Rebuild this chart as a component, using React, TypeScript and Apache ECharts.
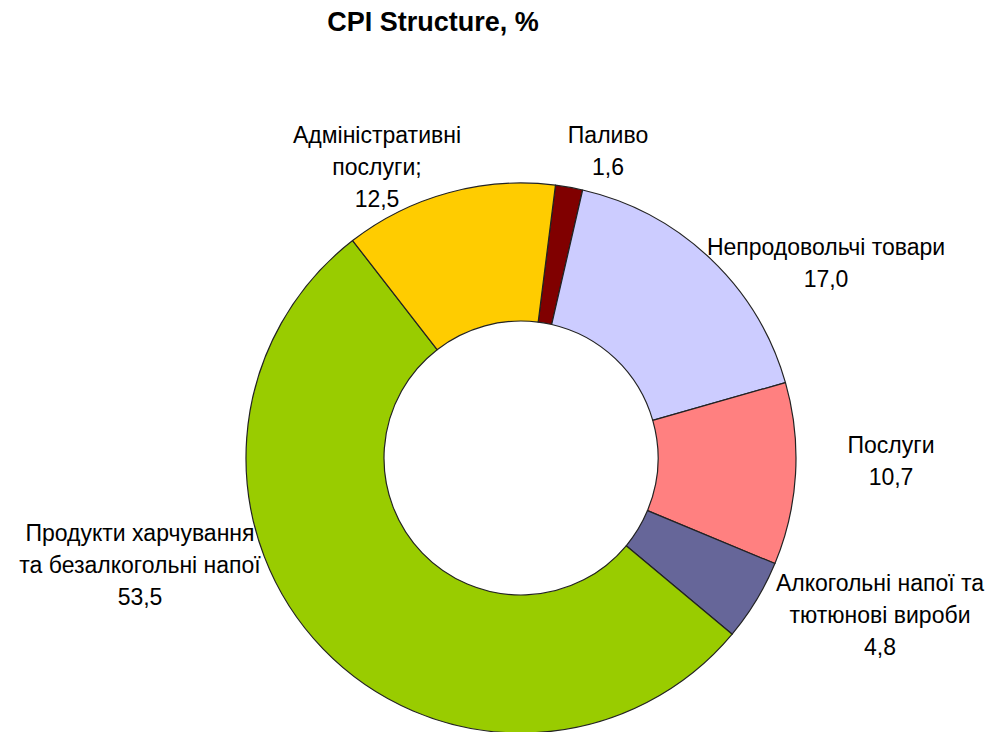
import React, { useEffect, useRef } from "react";
import * as echarts from "echarts";

const categories = [
  "Паливо",
  "Непродовольчі товари",
  "Послуги",
  "Алкогольні напої та\nтютюнові вироби",
  "Продукти харчування\nта безалкогольні напої",
  "Адміністративні\nпослуги;",
];
const values = [1.6, 17.0, 10.7, 4.8, 53.5, 12.5];
const colors = ["#800000", "#CCCCFF", "#FF8080", "#666699", "#99CC00", "#FFCC00"];
// label centre positions (px)
const labelPos: [number, number][] = [
  [608, 151],
  [826, 263],
  [891, 461],
  [880, 615],
  [140, 565],
  [377, 167],
];

export default function App() {
  const ref = useRef<HTMLDivElement>(null);
  useEffect(() => {
    if (!ref.current) return;
    const chart = echarts.init(ref.current, null, { renderer: "svg" });
    chart.setOption({
      animation: false,
      backgroundColor: "#ffffff",
      graphic: [
        {
          type: "text",
          x: 433,
          y: 22,
          style: {
            text: "CPI Structure, %",
            fontFamily: "Liberation Sans, Arial, sans-serif",
            fontWeight: "bold",
            fontSize: 27,
            fill: "#000",
            align: "center",
            verticalAlign: "middle",
          },
        },
      ],
      series: [
        {
          type: "pie",
          center: [521, 458],
          radius: [137, 275],
          startAngle: 82.8,
          clockwise: true,
          avoidLabelOverlap: false,
          itemStyle: { borderColor: "#222", borderWidth: 1.2 },
          label: {
            show: true,
            position: "outside",
            color: "#000",
            fontFamily: "Liberation Sans, Arial, sans-serif",
            fontSize: 23,
            lineHeight: 32,
            align: "center",
            formatter: (p: any) => p.name + "\n" + Number(p.value).toFixed(1).replace(".", ","),
          },
          labelLine: { show: false },
          labelLayout: (p: any) => ({
            x: labelPos[p.dataIndex][0],
            y: labelPos[p.dataIndex][1],
            align: "center",
            verticalAlign: "middle",
          }),
          emphasis: { disabled: true },
          data: categories.map((c, i) => ({
            name: c,
            value: values[i],
            itemStyle: { color: colors[i] },
          })),
        },
      ],
    });
    return () => chart.dispose();
  }, []);
  return (
    <div
      ref={ref}
      style={{ position: "fixed", left: 0, top: 0, width: 1000, height: 732 }}
    />
  );
}
